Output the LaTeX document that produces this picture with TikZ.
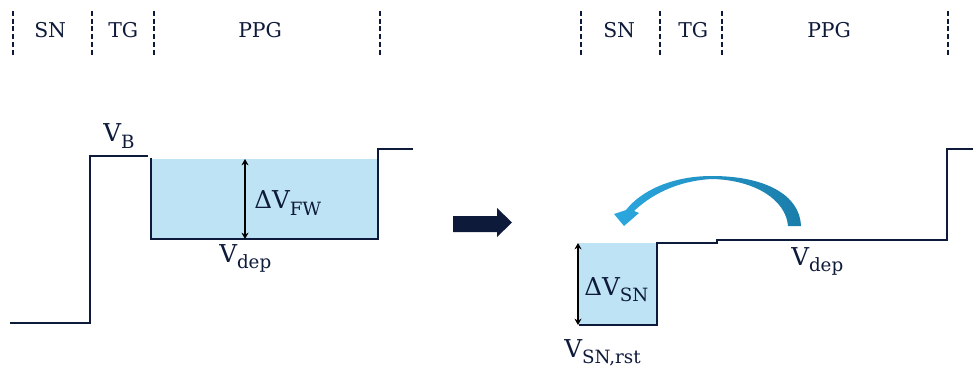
\documentclass[tikz,border=0pt]{standalone}
\usepackage{fontspec}
\setmainfont{DejaVu Serif}
\usetikzlibrary{arrows.meta, positioning, calc}
\definecolor{cnavy}{HTML}{0E1A3A}
\definecolor{cwell}{HTML}{BEE3F4}
\definecolor{cflowA}{HTML}{2BA8E0}
\definecolor{cflowB}{HTML}{1A7DAA}
\newcommand{\vsub}[1]{\raisebox{-4.3pt}{\fontsize{13}{13}\selectfont #1}}
\tikzset{
  every picture/.style={line width=1.8pt},
  level/.style={draw=cnavy, line width=1.9pt},
  sep/.style={draw=cnavy, line width=1.7pt, dash pattern=on 3.5pt off 2pt},
  zone/.style={text=cnavy, inner sep=0pt, anchor=base west, font=\fontsize{14.5}{16}\selectfont},
  vlabel/.style={text=cnavy, inner sep=0pt, anchor=base west, font=\fontsize{17.5}{20}\selectfont},
  dim/.style={{Stealth[length=4.5pt,width=5pt]}-{Stealth[length=4.5pt,width=5pt]}, draw=black, line width=0.9pt},
}

\begin{document}
\begin{tikzpicture}[x=0.025cm, y=-0.025cm]
  \useasboundingbox (0,0) rectangle (973,367);

  % region borders and names, before and after
  \foreach \x in {13,92,154,380,581,660,722,948} { \draw[sep] (\x,11) -- (\x,55); }
  \foreach \n/\x/\t in {snL/33/SN, tgL/107/TG, ppgL/237/PPG, snR/602/SN, tgR/677/TG, ppgR/806/PPG} {
    \node[zone] (\n) at (\x,38) {\t};
  }

  % left: charge held in the PPG well
  \fill[cwell] (151,159) rectangle (378,239);
  \draw[level] (10,323) -- (90,323) -- (90,156) -- (148,156);
  \draw[level] (151,158) -- (151,239) -- (378,239) -- (378,149) -- (413,149);
  \coordinate (fwtop) at (245,159);
  \coordinate (fwbot) at (245,239);
  \draw[dim] (fwtop) -- (fwbot);
  \node[vlabel] (vb) at (102,142) {V\vsub{B}};
  \node[vlabel] (dfw) at (253,209) {ΔV\vsub{FW}};
  \node[vlabel] (vdepL) at (218,262) {V\vsub{dep}};

  % transfer
  \fill[cnavy] (453,216) -- (497,216) -- (497,208) -- (512,222.5) -- (497,237) -- (497,232) -- (453,232) -- cycle;

  % right: charge moved onto the SN
  \fill[cwell] (579,243) rectangle (657,325);
  \draw[level] (579,325) -- (657,325) -- (657,243) -- (717,243) -- (717,240) -- (947,240) -- (947,149) -- (975,149);
  \coordinate (sntop) at (578,243);
  \coordinate (snbot) at (578,325);
  \draw[dim] (sntop) -- (snbot);
  \node[vlabel] (dsn) at (583,295) {ΔV\vsub{SN}};
  \node[vlabel] (vrst) at (563,357) {V\vsub{SN,rst}};
  \node[vlabel] (vdepR) at (790,265) {V\vsub{dep}};
  \shade[left color=cflowA, right color=cflowB]
    (801,226) .. controls (800,195) and (765,176) .. (712,176)
    .. controls (670,176) and (640,192) .. (626,210)
    -- (614,214) -- (624,226) -- (639,213) -- (634,211)
    .. controls (650,196) and (675,181) .. (712,179)
    .. controls (755,180) and (786,200) .. (788,226) -- cycle;
\end{tikzpicture}
\end{document}
